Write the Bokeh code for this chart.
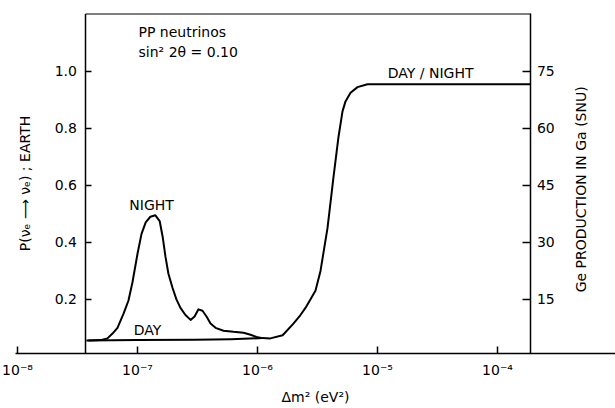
from bokeh.plotting import figure
from bokeh.models import (LinearAxis, Range1d, FixedTicker, CustomJSTickFormatter,
                          Label)
from bokeh.embed import file_html
from bokeh.resources import INLINE

# ---- data ----
dm2_night = [3.9e-8, 4.92e-8, 5.62e-8, 6.19e-8, 6.81e-8, 7.65e-8, 8.41e-8, 9.08e-8,
             1.0e-7, 1.08e-7, 1.17e-7, 1.28e-7, 1.41e-7, 1.53e-7, 1.62e-7, 1.71e-7,
             1.81e-7, 1.96e-7, 2.11e-7, 2.28e-7, 2.51e-7, 2.77e-7, 2.99e-7, 3.22e-7,
             3.48e-7, 3.76e-7, 4.06e-7, 4.47e-7, 5.21e-7, 6.31e-7, 7.65e-7, 8.75e-7,
             9.81e-7, 1.10e-6, 1.28e-6, 1.62e-6, 2.0e-6, 2.28e-6, 2.51e-6, 3.04e-6,
             3.35e-6, 3.83e-6, 4.30e-6, 4.73e-6, 5.11e-6, 5.41e-6, 5.96e-6, 6.81e-6,
             8.25e-6, 1.9e-4]
p_night = [0.056, 0.057, 0.063, 0.080, 0.100, 0.150, 0.196, 0.260,
           0.360, 0.430, 0.470, 0.490, 0.495, 0.475, 0.420, 0.350,
           0.290, 0.240, 0.200, 0.170, 0.145, 0.128, 0.140, 0.165,
           0.160, 0.140, 0.115, 0.100, 0.090, 0.086, 0.083, 0.076,
           0.068, 0.064, 0.063, 0.074, 0.116, 0.145, 0.170, 0.230,
           0.300, 0.450, 0.630, 0.770, 0.860, 0.895, 0.925, 0.945,
           0.955, 0.955]

dm2_day = [3.75e-8, 1.0e-7, 3.0e-7, 6.0e-7, 1.1e-6]
p_day = [0.056, 0.057, 0.058, 0.060, 0.064]

x_ticks = [1e-8, 1e-7, 1e-6, 1e-5, 1e-4]
p_ticks = [0.2, 0.4, 0.6, 0.8, 1.0]
snu_ticks = [15, 30, 45, 60, 75]

X_LEFT = 3.72e-8     # left frame edge (data)
X_RIGHT = 1.9e-4     # right frame edge (data)
Y_TOP = 1.2035

FONT = "DejaVu Sans"
INK = "black"

p = figure(width=615, height=408, x_axis_type="log",
           x_range=Range1d(10 ** -8.0167, 10 ** -3.0167),
           y_range=Range1d(0.01, Y_TOP),
           y_axis_location=None,
           output_backend="svg", toolbar_location=None,
           min_border_left=15, min_border_right=0,
           min_border_top=13, min_border_bottom=55)
p.outline_line_color = None
p.grid.visible = False
p.background_fill_color = "white"
p.border_fill_color = "white"

p.extra_y_ranges = {"snu": Range1d(0.75, 90.26)}

def style_axis(ax):
    ax.minor_tick_line_color = None
    ax.major_tick_out = 0
    ax.axis_line_width = 1.5
    ax.axis_line_color = INK
    ax.major_tick_line_width = 1.5
    ax.major_tick_line_color = INK
    ax.major_label_text_font = FONT
    ax.major_label_text_font_size = "14px"
    ax.major_label_text_color = INK
    ax.axis_label_text_font = FONT
    ax.axis_label_text_font_size = "14px"
    ax.axis_label_text_font_style = "normal"
    ax.axis_label_text_color = INK

# x axis
xa = p.xaxis[0]
style_axis(xa)
xa.ticker = FixedTicker(ticks=x_ticks)
xa.formatter = CustomJSTickFormatter(code="""
const sup = {'-':'\u207b','0':'\u2070','1':'\u00b9','2':'\u00b2','3':'\u00b3',
             '4':'\u2074','5':'\u2075','6':'\u2076','7':'\u2077','8':'\u2078','9':'\u2079'};
const e = Math.round(Math.log10(tick));
return '10' + String(e).split('').map(c => sup[c]).join('');
""")
xa.major_tick_in = 7
xa.major_label_standoff = 8
xa.axis_label = "\u0394m\u00b2 (eV\u00b2)"
xa.axis_label_standoff = 8

# left axis (fixed at left frame edge)
la = LinearAxis(fixed_location=X_LEFT, ticker=FixedTicker(ticks=p_ticks),
                formatter=CustomJSTickFormatter(code="return tick.toFixed(1);"))
style_axis(la)
la.major_tick_in = 6
la.major_label_standoff = 9
la.axis_label = "P(\u03bd\u2091 \u27f6 \u03bd\u2091) ; EARTH"
la.axis_label_standoff = 18
p.add_layout(la, "left")

# right axis (SNU)
ra = LinearAxis(y_range_name="snu", fixed_location=X_RIGHT,
                ticker=FixedTicker(ticks=snu_ticks))
style_axis(ra)
ra.major_tick_in = 8
ra.major_label_standoff = 6
p.add_layout(ra, "right")

# top border of the box
p.segment(x0=[X_LEFT], y0=[Y_TOP], x1=[X_RIGHT], y1=[Y_TOP],
          line_color=INK, line_width=2)

# curves
p.line(dm2_night, p_night, line_color=INK, line_width=2, line_join="round")
p.line(dm2_day, p_day, line_color=INK, line_width=2, line_join="round")

def lab(x, y, text, align="center", angle=0):
    p.add_layout(Label(x=x, y=y, text=text, text_font=FONT, text_font_size="14px",
                       text_align=align, text_baseline="middle", angle=angle,
                       text_color=INK))

lab(1.31e-7, 0.53, "NIGHT")
lab(1.21e-7, 0.091, "DAY")
lab(2.77e-5, 0.996, "DAY / NIGHT")
lab(1.02e-7, 1.137, "PP  neutrinos", align="left")
lab(1.02e-7, 1.067, "sin\u00b2 2\u03b8 = 0.10", align="left")
lab(4.92e-4, 0.6175, "Ge  PRODUCTION  IN  Ga  (SNU)", angle=1.5708)

open("out.html", "w").write(file_html(p, INLINE))
